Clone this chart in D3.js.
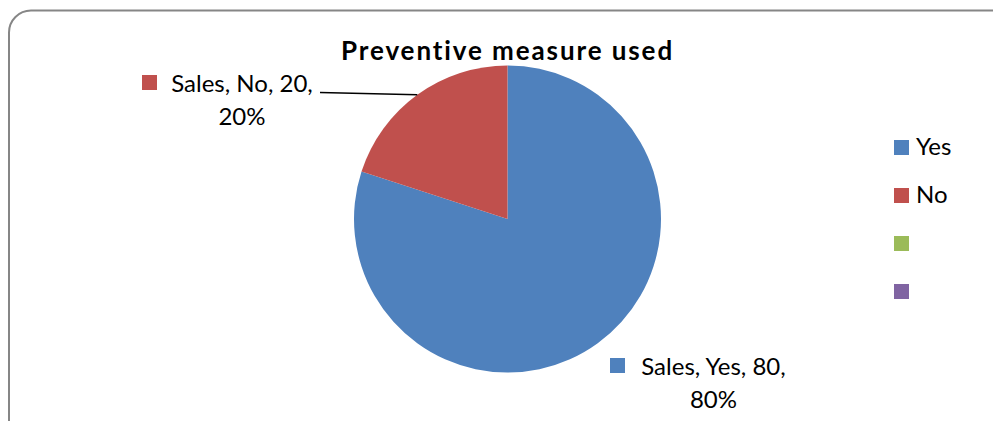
<!DOCTYPE html>
<html><head><meta charset="utf-8">
<script src="https://cdn.jsdelivr.net/npm/d3@7"></script>
<style>html,body{margin:0;padding:0;background:#fff;overflow:hidden}svg{display:block}</style>
</head><body>
<svg id="chart" width="993" height="421"></svg>
<script>
const title = "Preventive measure used";
const seriesName = "Sales";
const categories = ["Yes", "No"];
const values = [80, 20];
const legendLabels = ["Yes", "No", "", ""];
const colors = ["#4F81BD", "#C0504D", "#9BBB59", "#8064A2"];

const W = 993, H = 421;
const svg = d3.select("#chart");
const font = "Lato, 'Noto Sans', sans-serif";

// frame
svg.append("rect").attr("x", 9).attr("y", 10.5).attr("width", 1010).attr("height", 440)
  .attr("rx", 22).attr("ry", 22).attr("fill", "#fff").attr("stroke", "#868686").attr("stroke-width", 2);

// title
svg.append("text").attr("x", 507.5).attr("y", 60).attr("text-anchor", "middle")
  .attr("font-family", font).attr("font-weight", "bold").attr("font-size", 26)
  .attr("letter-spacing", 1.9)
  .attr("fill", "#000").text(title);

// pie
const cx = 507.5, cy = 219, r = 153.5;
const total = d3.sum(values);
const pie = d3.pie().sort(null).value(d => d)(values);
const arc = d3.arc().innerRadius(0).outerRadius(r);
const g = svg.append("g").attr("transform", `translate(${cx},${cy})`);
g.selectAll("path").data(pie).join("path")
  .attr("d", arc).attr("fill", (d, i) => colors[i]);

// data labels
const labelPos = [
  {x: 713.5, y: 375, mx: 610, my: 358},
  {x: 242, y: 92, mx: 142, my: 75}
];
const lblFont = 24;
pie.forEach((d, i) => {
  const p = labelPos[i];
  const pct = Math.round(values[i] / total * 100) + "%";
  const t = svg.append("text").attr("font-family", font).attr("font-size", lblFont)
    .attr("text-anchor", "middle").attr("fill", "#000");
  t.append("tspan").attr("x", p.x).attr("y", p.y).text(`${seriesName}, ${categories[i]}, ${values[i]},`);
  t.append("tspan").attr("x", p.x).attr("y", p.y + 32.5).text(pct);
  svg.append("rect").attr("x", p.mx).attr("y", p.my).attr("width", 15).attr("height", 15).attr("fill", colors[i]);
});

// leader line for "No" slice
const noArc = pie[1];
const mid = (noArc.startAngle + noArc.endAngle) / 2;
const ex = cx + r * Math.sin(mid), ey = cy - r * Math.cos(mid);
svg.append("line").attr("x1", 320).attr("y1", 92.5).attr("x2", ex).attr("y2", ey)
  .attr("stroke", "#000").attr("stroke-width", 1.5);

// legend
const lg = svg.append("g");
legendLabels.forEach((lab, i) => {
  const y = 140 + i * 48;
  lg.append("rect").attr("x", 894).attr("y", y).attr("width", 15).attr("height", 15).attr("fill", colors[i]);
  if (lab) lg.append("text").attr("x", 916).attr("y", y + 15).attr("font-family", font)
    .attr("font-size", 24).attr("fill", "#000").text(lab);
});
</script>
</body></html>
